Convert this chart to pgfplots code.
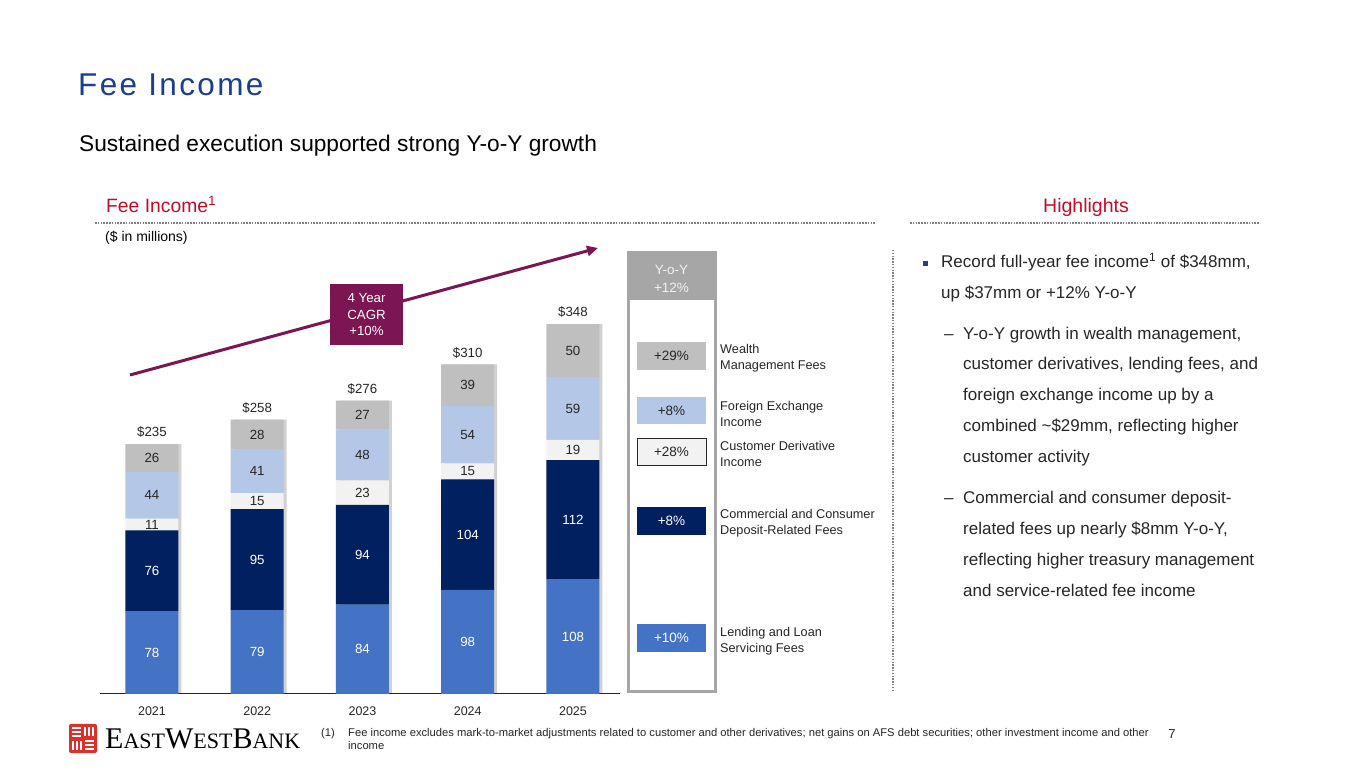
\documentclass[border=0pt]{standalone}
\usepackage{fontspec}
\setmainfont{Liberation Sans}
\newfontfamily\logofont{Liberation Serif}
\newfontfamily\titlefont[LetterSpace=7.5]{Liberation Sans}
\usepackage{pgfplots}
\pgfplotsset{compat=1.18}
\usetikzlibrary{arrows.meta}

\definecolor{lendblue}{HTML}{4472C4}
\definecolor{depnavy}{HTML}{002060}
\definecolor{derivgray}{HTML}{F2F2F2}
\definecolor{fxblue}{HTML}{B4C7E7}
\definecolor{wealthgray}{HTML}{BFBFBF}
\definecolor{titleblue}{HTML}{1B3F8A}
\definecolor{ewred}{HTML}{C00D2A}
\definecolor{cagr}{HTML}{7B1652}
\definecolor{txt}{HTML}{262626}
\definecolor{panelgray}{HTML}{A6A6A6}
\definecolor{dotgray}{HTML}{7F7F7F}
\definecolor{logored}{HTML}{D9322B}

\newcommand{\fs}[1]{\fontsize{#1}{1.2\dimexpr#1pt\relax}\selectfont}

% same frame for the three overlaid axes
\pgfplotsset{
  feebase/.style={
    at={(100pt,74pt)}, anchor=south west,
    scale only axis, width=520pt, height=425.2pt,
    xmin=-0.494, xmax=4.447, ymin=0, ymax=400,
    axis line style={draw=none}, tick style={draw=none}, ytick=\empty,
    clip=false,
  },
  seglabel/.style={
    only marks, mark=*, mark size=0pt, draw=none, fill=none,
    nodes near coords, point meta=explicit symbolic,
    every node near coord/.append style={anchor=center, font=\fs{13.3}, text=#1},
  },
}

\begin{document}
\begin{tikzpicture}[x=1pt,y=1pt]
\path[fill=white, use as bounding box] (0,0) rectangle (1365,768);

% shadows
\begin{axis}[feebase, xtick=\empty, ybar, bar width=53pt]
\addplot[fill=black!18, draw=none, bar shift=3pt] coordinates {(0,235) (1,258) (2,276) (3,310) (4,348)};
\end{axis}

% stacked bars
\begin{axis}[feebase, ybar stacked, bar width=53pt,
  xtick={0,1,2,3,4}, xticklabels={2021,2022,2023,2024,2025},
  xticklabel style={font=\fs{12.5}, text=txt, yshift=-9pt}]
\addplot[fill=lendblue, draw=none] coordinates {(0,78) (1,79) (2,84) (3,98) (4,108)};
\addplot[fill=depnavy, draw=none] coordinates {(0,76) (1,95) (2,94) (3,104) (4,112)};
\addplot[fill=derivgray, draw=none] coordinates {(0,11) (1,15) (2,23) (3,15) (4,19)};
\addplot[fill=fxblue, draw=none] coordinates {(0,44) (1,41) (2,48) (3,54) (4,59)};
\addplot[fill=wealthgray, draw=none] coordinates {(0,26) (1,28) (2,27) (3,39) (4,50)};
\draw[txt, line width=1pt] (rel axis cs:0,0) -- (rel axis cs:1,0);
\end{axis}

% segment and total labels
\begin{axis}[feebase, xtick=\empty]
\addplot[seglabel=white] coordinates {(0,39)[78] (1,39.5)[79] (2,42)[84] (3,49)[98] (4,54)[108]};
\addplot[seglabel=white] coordinates {(0,116)[76] (1,126.5)[95] (2,131)[94] (3,150)[104] (4,164)[112]};
\addplot[seglabel=txt] coordinates {(0,159.5)[11] (1,181.5)[15] (2,189.5)[23] (3,209.5)[15] (4,229.5)[19]};
\addplot[seglabel=txt] coordinates {(0,187)[44] (1,209.5)[41] (2,225)[48] (3,244)[54] (4,268.5)[59]};
\addplot[seglabel=txt] coordinates {(0,222)[26] (1,244)[28] (2,262.5)[27] (3,290.5)[39] (4,323)[50]};
\addplot[seglabel=txt, every node near coord/.append style={anchor=south, yshift=3pt}]
  coordinates {(0,235)[\$235] (1,258)[\$258] (2,276)[\$276] (3,310)[\$310] (4,348)[\$348]};
\end{axis}

\begin{scope}[yshift=768pt, yscale=-1]
% headings
\node[anchor=base west, inner sep=0, text=titleblue, font=\titlefont\fs{31.5}] at (78,96) {Fee Income};
\node[anchor=base west, inner sep=0, text=black, font=\fs{22.7}] at (79,152) {Sustained execution supported strong Y-o-Y growth};
\node[anchor=base west, inner sep=0, text=ewred, font=\fs{19.3}] at (106,213) {Fee Income\textsuperscript{1}};
\node[anchor=base east, inner sep=0, text=ewred, font=\fs{19.5}] at (1129,213) {Highlights};
\draw[dotgray, line width=1.6pt, dash pattern=on 1.5pt off 1.3pt] (95,223) -- (875,223);
\draw[dotgray, line width=1.6pt, dash pattern=on 1.5pt off 1.3pt] (910,223) -- (1260,223);
\draw[dotgray, line width=1.6pt, dash pattern=on 1.5pt off 1.3pt] (893,250) -- (893,690);
\node[anchor=base west, inner sep=0, text=black, font=\fs{14}] at (105,242) {(\$ in millions)};

% CAGR arrow and box
\draw[cagr, line width=3pt, -{Triangle[length=11pt, width=10pt]}] (130,375) -- (598,248);
\fill[cagr] (330,284) rectangle (403,345);
\node[text=white, font=\fs{13.3}, align=center, inner sep=0] at (366.5,314.5) {4 Year\\[1pt]CAGR\\[1pt]+10\%};

% Y-o-Y panel
\draw[panelgray, line width=3pt] (628,253) rectangle (715,692);
\fill[panelgray] (628,253) rectangle (715,300);
\node[text=derivgray, font=\fs{13.5}, align=center, inner sep=0] at (671.5,279) {Y-o-Y\\[1pt]+12\%};
\fill[wealthgray] (637,342) rectangle (706,370);
\node[text=txt, font=\fs{13.5}] at (671.5,356) {+29\%};
\fill[fxblue] (637,397) rectangle (706,424);
\node[text=txt, font=\fs{13.5}] at (671.5,410.5) {+8\%};
\filldraw[fill=derivgray, draw=txt, line width=0.8pt] (637,438) rectangle (706,465);
\node[text=txt, font=\fs{13.5}] at (671.5,451.5) {+28\%};
\fill[depnavy] (637,507) rectangle (706,535);
\node[text=white, font=\fs{13.5}] at (671.5,521) {+8\%};
\fill[lendblue] (637,624) rectangle (706,652);
\node[text=white, font=\fs{13.5}] at (671.5,638) {+10\%};
\begin{scope}[every node/.style={anchor=base west, inner sep=0, text=txt, font=\fs{12.7}}]
\node at (720,354) {Wealth};
\node at (720,370) {Management Fees};
\node at (720,411) {Foreign Exchange};
\node at (720,427) {Income};
\node at (720,451) {Customer Derivative};
\node at (720,467) {Income};
\node at (720,519) {Commercial and Consumer};
\node at (720,535) {Deposit-Related Fees};
\node at (720,637) {Lending and Loan};
\node at (720,653) {Servicing Fees};
\end{scope}

% highlights
\fill[depnavy!85] (923,261) rectangle (928,266);
\begin{scope}[every node/.style={anchor=base west, inner sep=0, text=txt, font=\fs{17}}]
\node at (941,267.5) {Record full-year fee income\textsuperscript{1} of \$348mm,};
\node at (941,299) {up \$37mm or +12\% Y-o-Y};
\node at (944,339.3) {--};
\node at (963,339.3) {Y-o-Y growth in wealth management,};
\node at (963,370) {customer derivatives, lending fees, and};
\node at (963,401) {foreign exchange income up by a};
\node at (963,432) {combined \textasciitilde\$29mm, reflecting higher};
\node at (963,462.5) {customer activity};
\node at (944,504) {--};
\node at (963,504) {Commercial and consumer deposit-};
\node at (963,535) {related fees up nearly \$8mm Y-o-Y,};
\node at (963,566) {reflecting higher treasury management};
\node at (963,596.5) {and service-related fee income};
\end{scope}

% footnote and page number
\begin{scope}[every node/.style={anchor=base west, inner sep=0, text=txt, font=\fs{11.2}}]
\node at (321,737) {(1)};
\node at (348,737) {Fee income excludes mark-to-market adjustments related to customer and other derivatives; net gains on AFS debt securities; other investment income and other};
\node at (348,750) {income};
\end{scope}
\node[anchor=base, inner sep=0, text=txt, font=\fs{13}] at (1172,739) {7};

% logo
\fill[logored, rounded corners=2pt] (69,724) rectangle (97,753);
\begin{scope}[white, line width=1.3pt]
\draw (72,728) -- (81,728) (72,732) -- (81,732) (72,736) -- (81,736);
\draw (85,727) -- (85,736) (89,727) -- (89,736) (93,727) -- (93,736);
\draw (73,741) -- (73,750) (77,741) -- (77,750) (81,741) -- (81,750);
\draw (85,741) -- (94,741) (85,745) -- (94,745) (85,749) -- (94,749);
\end{scope}
\node[anchor=base west, inner sep=0, text=black] at (105,749)
  {\logofont\fs{30}E\fs{22}AST\fs{30}W\fs{22}EST\fs{30}B\fs{22}ANK};
\end{scope}
\end{tikzpicture}
\end{document}
